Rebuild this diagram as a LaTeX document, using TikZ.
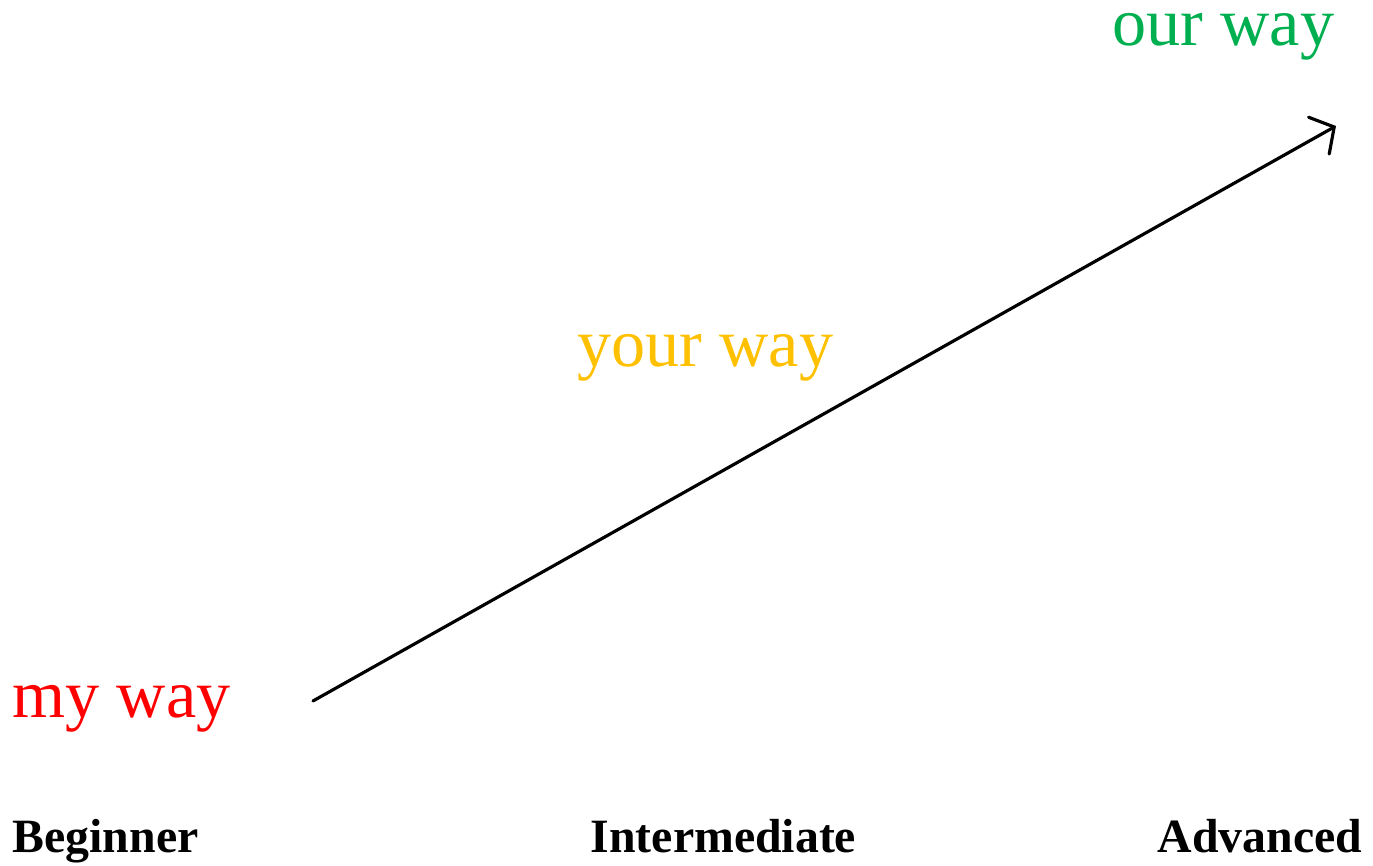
\documentclass[tikz,border=0pt]{standalone}
\usepackage{fontspec}
\setmainfont{Liberation Serif}
\usetikzlibrary{arrows.meta}
\definecolor{wayred}{RGB}{255,0,0}
\definecolor{wayyellow}{RGB}{255,192,0}
\definecolor{waygreen}{RGB}{0,176,80}
\tikzset{
  waytext/.style={inner sep=0pt, font=\fontsize{19.4}{23}\selectfont},
  leveltext/.style={inner sep=0pt, font=\fontsize{13.6}{16}\selectfont\bfseries},
  progress/.style={line width=0.9pt, line cap=round, -{Straight Barb[length=5pt,width=12pt,line cap=round]}}
}
\begin{document}
\begin{tikzpicture}
\useasboundingbox (0,0) rectangle (13.73,8.66);
\node[waytext, text=wayred, anchor=base west] (my) at (0.12,1.48) {my way};
\node[waytext, text=wayyellow, anchor=base west] (your) at (5.77,4.99) {your way};
\node[waytext, text=waygreen, anchor=base east, text height=0.32cm] (our) at (13.35,8.20) {our way};
\node[leveltext, anchor=base west] (beg) at (0.12,0.13) {Beginner};
\node[leveltext, anchor=base west] (int) at (5.90,0.13) {Intermediate};
\node[leveltext, anchor=base east] (adv) at (13.63,0.13) {Advanced};
\coordinate (start) at (3.13,1.65);
\coordinate (end) at (13.36,7.40);
\draw[progress] (start) -- (end);
\end{tikzpicture}
\end{document}
